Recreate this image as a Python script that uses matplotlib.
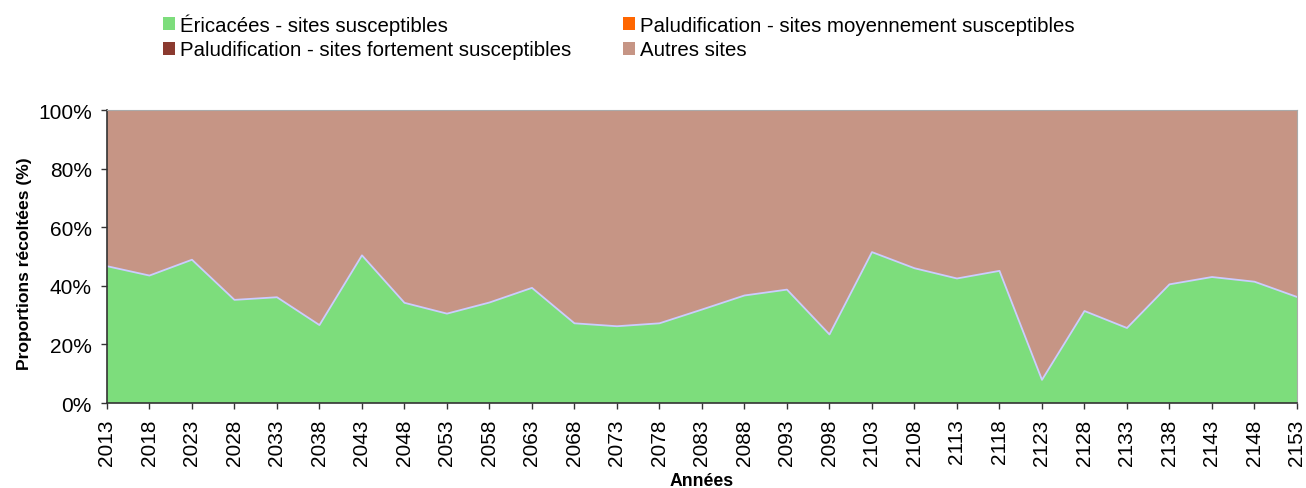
import matplotlib
matplotlib.use("Agg")
import matplotlib.pyplot as plt
import numpy as np

plt.rcParams['font.family'] = ['Liberation Sans', 'DejaVu Sans']

years = list(range(2013, 2154, 5))
ericacees = [46.7, 43.5, 48.9, 35.2, 36.1, 26.6, 50.4, 34.2, 30.5, 34.3,
             39.3, 27.2, 26.2, 27.2, 31.9, 36.7, 38.7, 23.4, 51.5, 46.0,
             42.5, 45.1, 7.9, 31.4, 25.6, 40.5, 43.0, 41.4, 36.2]
palud_moy = [0.0] * len(years)
palud_fort = [0.0] * len(years)
autres = [100.0 - e for e in ericacees]

labels = ["Éricacées - sites susceptibles",
          "Paludification - sites moyennement susceptibles",
          "Paludification - sites fortement susceptibles",
          "Autres sites"]
colors = ["#7ddd7c", "#ff6600", "#8b3a2f", "#c69585"]

fig = plt.figure(figsize=(13.06, 4.89), dpi=100)
ax = fig.add_axes([0.0819, 0.1738, 0.9112, 0.5992])

polys = ax.stackplot(years, ericacees, palud_moy, palud_fort, autres,
                     colors=colors, labels=labels, linewidth=0)
ax.plot(years, ericacees, color="#ccccff", linewidth=1.3)

ax.set_xlim(years[0], years[-1])
ax.set_ylim(0, 100)
ax.set_xticks(years)
ax.set_xticklabels([str(y) for y in years], rotation=90, fontsize=15)
ax.set_yticks(range(0, 101, 20))
ax.set_yticklabels([f"{v}%" for v in range(0, 101, 20)], fontsize=15)
ax.tick_params(axis='both', direction='out', length=4.5, width=1, color='#333333', pad=6.5)

for s in ['top', 'right']:
    ax.spines[s].set_color('#aaaaaa')
    ax.spines[s].set_linewidth(0.8)
for s in ['left', 'bottom']:
    ax.spines[s].set_color('#333333')
    ax.spines[s].set_linewidth(1.2)

ax.set_ylabel("Proportions récoltées (%)", fontsize=12.6, fontweight='bold')
ax.yaxis.set_label_coords(-0.0633, 0.478)
ax.set_xlabel("Années", fontsize=12.7, fontweight='bold', labelpad=5)

order = [0, 2, 1, 3]
leg = fig.legend([polys[i] for i in order], [labels[i] for i in order],
                 loc='upper left', bbox_to_anchor=(0.1248, 0.970), ncol=2,
                 frameon=False, fontsize=14.7, handlelength=0.6, handleheight=0.6,
                 handletextpad=0.25, columnspacing=2.5, labelspacing=0.25,
                 borderpad=0, borderaxespad=0)

fig.savefig("out.png", dpi=100)
